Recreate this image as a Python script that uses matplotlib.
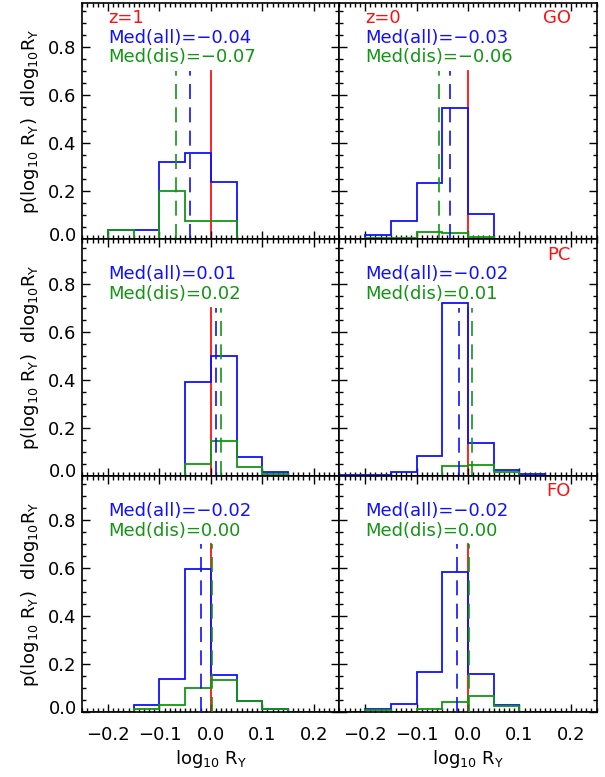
import numpy as np
import matplotlib
matplotlib.use("Agg")
import matplotlib.pyplot as plt
from matplotlib.ticker import MultipleLocator
from matplotlib.transforms import ScaledTranslation

plt.rcParams['font.family'] = ['DejaVu Sans']
plt.rcParams['mathtext.fontset'] = 'dejavusans'

# bin edges of log10 R_Y histograms
edges = [-0.25, -0.20, -0.15, -0.10, -0.05, 0.00, 0.05, 0.10, 0.15, 0.20, 0.25]

# fraction per bin, all galaxies (blue) and disturbed ones (green)
# rows: GO, PC, FO ; columns: z=1, z=0
go_z1_all = [0, 0.038, 0.038, 0.32, 0.36, 0.24, 0, 0, 0, 0]
go_z1_dis = [0, 0.038, 0, 0.20, 0.078, 0.078, 0, 0, 0, 0]
go_z0_all = [0.002, 0.017, 0.076, 0.233, 0.547, 0.107, 0, 0, 0, 0]
go_z0_dis = [0, 0.004, 0.004, 0.031, 0.028, 0.008, 0, 0, 0, 0]

pc_z1_all = [0, 0, 0, 0, 0.39, 0.50, 0.08, 0.017, 0, 0]
pc_z1_dis = [0, 0, 0, 0, 0.048, 0.145, 0.038, 0.007, 0, 0]
pc_z0_all = [0.003, 0.003, 0.015, 0.084, 0.72, 0.136, 0.025, 0.007, 0, 0]
pc_z0_dis = [0, 0, 0, 0, 0.039, 0.044, 0.015, 0, 0, 0]

fo_z1_all = [0, 0, 0.03, 0.137, 0.595, 0.154, 0.048, 0.014, 0, 0]
fo_z1_dis = [0, 0, 0.013, 0.03, 0.10, 0.136, 0.048, 0.013, 0, 0]
fo_z0_all = [0, 0.014, 0.035, 0.167, 0.583, 0.161, 0.03, 0.003, 0, 0]
fo_z0_dis = [0, 0.008, 0.003, 0.014, 0.043, 0.067, 0.025, 0, 0, 0]

# medians (dashed lines) and the printed values
med_all = [[-0.040, -0.035], [0.010, -0.018], [-0.019, -0.021]]
med_dis = [[-0.068, -0.056], [0.019, 0.007], [0.002, 0.002]]
med_all_txt = [["−0.04", "−0.03"], ["0.01", "−0.02"], ["−0.02", "−0.02"]]
med_dis_txt = [["−0.07", "−0.06"], ["0.02", "0.01"], ["0.00", "0.00"]]

hist_all = [[go_z1_all, go_z0_all], [pc_z1_all, pc_z0_all], [fo_z1_all, fo_z0_all]]
hist_dis = [[go_z1_dis, go_z0_dis], [pc_z1_dis, pc_z0_dis], [fo_z1_dis, fo_z0_dis]]
redshift_txt = ["z=1", "z=0"]
row_names = ["GO", "PC", "FO"]

BLUE = '#1010ff'
GREEN = '#129612'
RED = '#ff1010'
FS = 13

fig = plt.figure(figsize=(6.05, 7.77), dpi=100)
left, right, bottom, top = 0.136, 0.986, 0.0833, 0.9965
w = (right - left) / 2
h = (top - bottom) / 3

ylab = r'p(log$_{10}$ R$_{\rm Y}$)  dlog$_{10}$R$_{\rm Y}$'
xlab = r'log$_{10}$ R$_{\rm Y}$'

for r in range(3):
    for c in range(2):
        ax = fig.add_axes([left + c * w, top - (r + 1) * h, w, h])
        ax.set_xlim(-0.25, 0.25)
        ax.set_ylim(0, 0.985)

        ax.plot([0, 0], [0, 0.7], color=RED, lw=1.3, zorder=1)
        ax.stairs(hist_all[r][c], edges, color=BLUE, lw=1.3, zorder=2)
        ax.stairs(hist_dis[r][c], edges, color=GREEN, lw=1.3, zorder=2)
        ax.plot([med_all[r][c]] * 2, [0, 0.7], color=BLUE, lw=1.2,
                ls=(0, (9, 5)), zorder=3)
        ax.plot([med_dis[r][c]] * 2, [0, 0.7], color=GREEN, lw=1.2,
                ls=(0, (9, 5)), zorder=3)

        if r == 0:
            ax.text(-0.2, 0.92, redshift_txt[c], color=RED, fontsize=FS, va='center')
        if c == 1:
            ax.text(0.2, 0.92, row_names[r], color=RED, fontsize=FS,
                    va='center', ha='right')
        ax.text(-0.2, 0.84, "Med(all)=" + med_all_txt[r][c], color=BLUE,
                fontsize=FS, va='center')
        ax.text(-0.2, 0.757, "Med(dis)=" + med_dis_txt[r][c], color=GREEN,
                fontsize=FS, va='center')

        ax.xaxis.set_major_locator(MultipleLocator(0.1))
        ax.xaxis.set_minor_locator(MultipleLocator(0.01))
        ax.yaxis.set_major_locator(MultipleLocator(0.2))
        ax.yaxis.set_minor_locator(MultipleLocator(0.05))
        ax.tick_params(which='both', direction='in', top=True, right=True,
                       width=1.0, labelsize=FS)
        ax.tick_params(which='major', length=5.5)
        ax.tick_params(which='minor', length=3)
        ax.tick_params(axis='x', pad=10)
        ax.tick_params(axis='y', pad=4)
        for sp in ax.spines.values():
            sp.set_linewidth(1.2)

        if r == 2:
            ax.set_xlabel(xlab, fontsize=FS, labelpad=3)
        else:
            ax.tick_params(axis='x', labelbottom=False)
        if c == 0:
            ax.set_ylabel(ylab, fontsize=FS, labelpad=5)
            # the 0.0 label sits a little above its tick in the original
            locs = ax.yaxis.get_majorticklocs()
            ticks = ax.yaxis.get_major_ticks(len(locs))
            for loc, tk in zip(locs, ticks):
                if abs(loc) < 1e-9:
                    lab0 = tk.label1
                    lab0.set_transform(lab0.get_transform() +
                                       ScaledTranslation(0, 4 / 72, fig.dpi_scale_trans))
        else:
            ax.tick_params(axis='y', labelleft=False)

fig.savefig("out.png", dpi=100)
